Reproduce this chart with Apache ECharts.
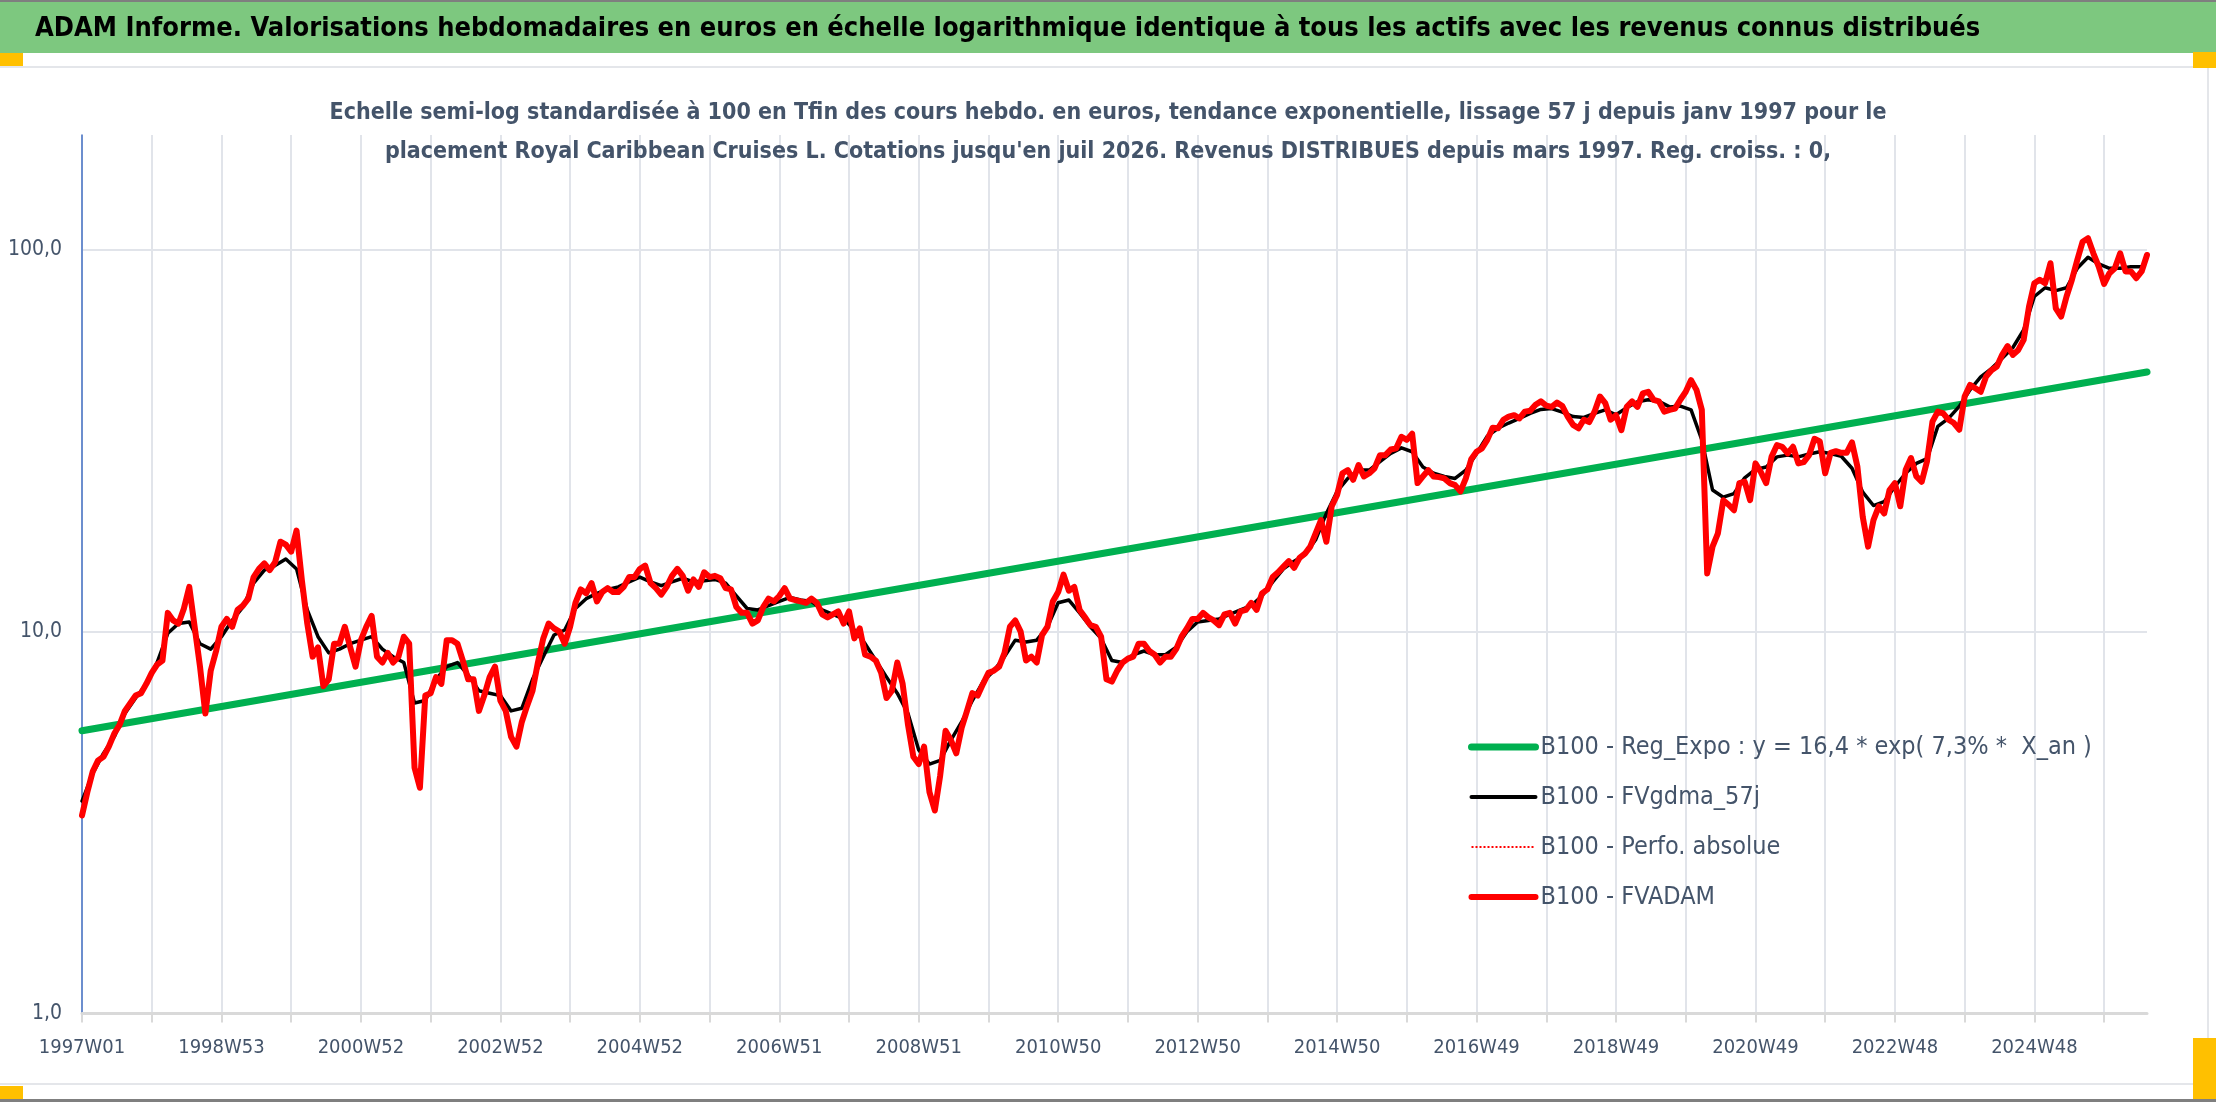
<!DOCTYPE html>
<html>
<head>
<meta charset="utf-8">
<script src="https://cdn.jsdelivr.net/npm/echarts@6/dist/echarts.min.js"></script>
<style>html,body{margin:0;padding:0;background:#fff}#c{width:2216px;height:1102px}</style>
</head>
<body>
<div id="c"></div>
<script>
const FONT = "'Liberation Sans Narrow','DejaVu Sans Condensed','Open Sans',sans-serif";

const mainTitle = "ADAM Informe. Valorisations hebdomadaires en euros en échelle logarithmique identique à tous les actifs avec les revenus connus distribués";
const subTitleLines = [
  "Echelle semi-log standardisée à 100 en Tfin des cours hebdo. en euros, tendance exponentielle, lissage 57 j depuis janv 1997 pour le",
  "placement Royal Caribbean Cruises L. Cotations jusqu'en juil 2026. Revenus DISTRIBUES depuis mars 1997. Reg. croiss. : 0,"
];
const seriesNames = [
  "B100 - Reg_Expo : y = 16,4 * exp( 7,3% *  X_an )",
  "B100 - FVgdma_57j",
  "B100 - Perfo. absolue",
  "B100 - FVADAM"
];
const yTickLabels = ["1,0", "10,0", "100,0"];
const firstYear = 1997;
const weekStep = 4;      // one category every 4 weeks
const gdmaStep = 2;      // smoothed series read every 2 categories (8 weeks)

// B100 - FVADAM, one value every 4 weeks from 1997W01
const fvadam = [
3.3,3.8,4.3,4.6,4.7,5.0,5.4,5.7,6.2,6.5,6.8,6.9,7.3,7.8,8.2,8.4,11.2,10.7,10.5,11.5,13.1,10.3,8.1,6.1,7.9,8.9,10.3,10.8,10.3,11.4,11.7,12.2,13.9,14.6,15.1,14.5,15.2,17.2,16.9,16.2,18.4,13.6,10.5,8.6,9.1,7.2,7.5,9.3,9.3,10.3,9.1,8.1,9.5,10.3,11.0,8.6,8.3,8.8,8.3,8.6,9.7,9.3,4.4,3.9,6.8,6.9,
7.6,7.3,9.5,9.5,9.3,8.4,7.5,7.5,6.2,6.8,7.6,8.1,6.6,6.2,5.3,5.0,5.8,6.4,7.0,8.3,9.6,10.5,10.2,10.0,9.3,10.3,11.9,12.9,12.6,13.4,12.0,12.7,13.0,12.7,12.7,13.1,13.9,13.9,14.6,14.9,13.4,13.0,12.5,13.1,14.0,14.6,14.0,12.8,13.7,13.1,14.3,13.9,14.0,13.8,13.0,12.9,11.6,11.2,11.2,10.5,10.7,11.6,12.2,12.0,12.4,13.0,12.2,
12.1,12.0,11.9,12.2,11.9,11.1,10.9,11.1,11.3,10.5,11.3,9.6,10.2,8.7,8.6,8.4,7.8,6.7,7.0,8.3,7.3,5.7,4.7,4.5,5.0,3.8,3.4,4.2,5.5,5.2,4.8,5.6,6.2,6.9,6.8,7.3,7.8,7.9,8.1,8.8,10.3,10.7,10.0,8.4,8.6,8.3,9.8,10.3,12.0,12.7,14.1,12.8,13.1,11.4,10.9,10.4,10.3,9.7,7.5,7.4,7.9,8.3,
8.5,8.6,9.3,9.3,8.9,8.7,8.3,8.6,8.6,9.0,9.7,10.2,10.8,10.8,11.2,10.9,10.7,10.4,11.1,11.2,10.5,11.3,11.4,11.9,11.4,12.6,12.9,13.9,14.3,14.8,15.3,14.7,15.6,16.0,16.7,18.1,19.6,17.2,21.3,22.8,26.0,26.5,25.0,27.3,25.5,26.0,26.8,29.0,29.0,30.0,30.2,32.4,31.8,33.0,24.5,25.5,26.5,25.5,25.4,25.2,24.5,24.2,23.3,25.2,
28.3,29.6,30.2,31.8,34.2,34.1,35.9,36.6,36.9,36.2,37.7,37.9,39.3,40.1,39.1,38.8,39.8,39.0,36.6,34.8,34.1,35.9,35.4,37.7,41.3,39.7,35.9,36.9,33.7,38.8,40.1,38.8,42.1,42.5,40.5,40.1,37.7,38.1,38.4,40.5,42.5,45.6,43.0,38.1,14.2,16.7,18.1,22.1,21.5,20.8,24.5,24.7,22.1,27.6,26.2,24.5,28.7,30.8,30.5,29.3,30.5,27.6,
27.8,29.0,32.0,31.5,26.0,29.4,29.7,29.4,29.4,31.3,27.1,20.0,16.7,19.6,21.3,20.4,23.5,24.5,21.3,26.5,28.5,25.5,24.7,28.0,35.5,37.7,37.3,35.9,35.2,33.8,41.3,44.3,43.4,42.5,46.6,48.4,49.5,53.1,56.0,53.1,54.7,58.1,71.0,81.8,83.5,81.8,92.3,70.3,66.9,75.5,83.5,94.1,105.1,107.3,98.0,90.4,81.5,86.9,89.5,98.0,87.8,87.8,84.3,87.8,97.0
];

// B100 - FVgdma_57j, one value every 8 weeks from 1997W01
const fvgdma57 = [
3.6,4.25,4.8,5.3,6.1,6.7,7.3,8.3,9.9,10.5,10.6,9.3,9.0,9.7,10.7,11.6,13.4,14.5,14.9,15.5,14.6,11.4,9.7,8.8,9.0,9.3,9.5,9.7,9.0,8.6,8.3,6.5,6.6,
7.5,8.1,8.3,7.7,7.0,6.9,6.8,6.2,6.3,7.5,8.6,9.8,10.1,11.5,12.2,12.6,12.9,13.1,13.5,13.9,13.5,13.2,13.5,13.8,13.5,13.6,13.7,13.4,12.4,11.5,11.4,11.7,12.0,12.3,
12.1,12.0,11.4,11.1,10.8,10.1,9.3,8.4,7.6,6.9,6.1,4.9,4.5,4.6,5.2,5.8,6.6,7.4,7.9,8.6,9.5,9.4,9.5,10.3,11.9,12.1,11.2,10.3,9.6,8.4,8.3,8.7,
8.9,8.7,8.7,9.1,10.0,10.6,10.7,10.8,11.1,11.4,11.7,12.4,13.5,14.6,15.3,15.9,17.4,20.4,23.3,25.2,26.5,26.5,27.9,29.3,30.3,29.6,27.0,26.0,25.5,25.2,26.5,29.3,
32.5,34.1,35.2,36.2,37.3,38.2,38.4,37.6,36.6,36.4,37.3,38.1,37.0,38.6,40.0,40.5,40.1,38.8,39.0,38.1,31.8,23.5,22.5,23.0,25.3,26.6,27.0,28.7,29.0,28.7,
29.2,29.6,29.3,28.8,26.8,23.2,21.4,21.9,24.0,26.0,27.6,28.4,34.5,36.2,38.9,43.0,46.5,48.9,52.0,55.5,61.7,75.5,79.6,78.2,79.6,89.5,95.7,91.9,89.5,89.5,90.4,90.4
];

// B100 - Reg_Expo : values read at the first and the last week (straight on the log axis)
const regExpoEnds = [5.5, 47.9];

// ---- categories (ISO weeks) ----
function isoWeeksInYear(y) {
  const d = new Date(Date.UTC(y, 11, 28));
  const day = (d.getUTCDay() + 6) % 7;
  const th = new Date(d.getTime()); th.setUTCDate(d.getUTCDate() - day + 3);
  const ys = new Date(Date.UTC(th.getUTCFullYear(), 0, 1));
  return Math.ceil(((th - ys) / 86400000 + 1) / 7);
}
function weekLabel(w) {
  let y = firstYear, k = w;
  while (k >= isoWeeksInYear(y)) { k -= isoWeeksInYear(y); y++; }
  return y + "W" + String(k + 1).padStart(2, "0");
}
const categories = fvadam.map((_, i) => weekLabel(i * weekStep));
const nCat = categories.length;

const regData = categories.map((_, i) => i === 0 ? regExpoEnds[0] : (i === nCat - 1 ? regExpoEnds[1] : null));
const gdmaData = categories.map((_, i) => (i % gdmaStep === 0 && fvgdma57[i / gdmaStep] != null) ? fvgdma57[i / gdmaStep] : null);

const chart = echarts.init(document.getElementById("c"), null, { renderer: "canvas" });
const SLATE = "#44546A";
const GRID = "#E1E4EA";
const noSymbol = { opacity: 0 };

chart.setOption({
  animation: false,
  backgroundColor: "#ffffff",
  graphic: [
    { type: "rect", z: 0, shape: { x: 0, y: 0, width: 2216, height: 2 }, style: { fill: "#7f7f7f" } },
    { type: "rect", z: 0, shape: { x: 0, y: 2, width: 2216, height: 51 }, style: { fill: "#7DC87F" } },
    { type: "rect", z: 0, shape: { x: 0, y: 66, width: 2210, height: 2 }, style: { fill: "#E4E6EA" } },
    { type: "rect", z: 0, shape: { x: 2207, y: 66, width: 2, height: 1019 }, style: { fill: "#E4E6EA" } },
    { type: "rect", z: 0, shape: { x: 0, y: 1083, width: 2210, height: 2 }, style: { fill: "#E4E6EA" } },
    { type: "rect", z: 0, shape: { x: 0, y: 1099, width: 2216, height: 3 }, style: { fill: "#7f7f7f" } },
    { type: "rect", z: 1, shape: { x: 0, y: 53, width: 23, height: 13 }, style: { fill: "#FFC000" } },
    { type: "rect", z: 1, shape: { x: 2193, y: 52, width: 23, height: 16 }, style: { fill: "#FFC000" } },
    { type: "rect", z: 1, shape: { x: 0, y: 1086, width: 23, height: 13 }, style: { fill: "#FFC000" } },
    { type: "rect", z: 1, shape: { x: 2193, y: 1038, width: 23, height: 61 }, style: { fill: "#FFC000" } }
  ],
  title: [
    {
      text: mainTitle, left: 35, top: 14, padding: 0, z: 20,
      textStyle: { fontFamily: FONT, fontSize: 27, fontWeight: "bold", color: "#000000", lineHeight: 30 }
    },
    {
      text: subTitleLines[0], left: "center", top: 94, padding: 0, z: 20,
      textStyle: { fontFamily: FONT, fontSize: 23, fontWeight: "bold", color: SLATE, lineHeight: 39 }
    },
    {
      text: subTitleLines[1], left: "center", top: 133, padding: 0, z: 20,
      textStyle: { fontFamily: FONT, fontSize: 23, fontWeight: "bold", color: SLATE, lineHeight: 39 }
    }
  ],
  grid: { left: 82, right: 69, top: 135, bottom: 88.6, containLabel: false },
  legend: {
    orient: "vertical", left: 1468, top: 734, padding: 0,
    itemGap: 24, itemWidth: 64, itemHeight: 14, selectedMode: false,
    itemStyle: noSymbol,
    textStyle: { fontFamily: FONT, fontSize: 25, lineHeight: 26, color: SLATE },
    data: [
      { name: seriesNames[0], lineStyle: { width: 7 }, itemStyle: noSymbol },
      { name: seriesNames[1], lineStyle: { width: 4 }, itemStyle: noSymbol },
      { name: seriesNames[2], lineStyle: { width: 2, type: "dotted" }, itemStyle: noSymbol },
      { name: seriesNames[3], lineStyle: { width: 6 }, itemStyle: noSymbol }
    ]
  },
  xAxis: {
    type: "category", data: categories, boundaryGap: false,
    axisLine: { lineStyle: { color: "#D9D9D9", width: 3 } },
    axisTick: { show: true, interval: 12, length: 9, lineStyle: { color: "#D9D9D9", width: 2 } },
    axisLabel: { interval: 25, margin: 24, fontFamily: FONT, fontSize: 20, color: SLATE },
    splitLine: { show: true, interval: 12, lineStyle: { color: GRID, width: 2 } }
  },
  yAxis: {
    type: "log", logBase: 10, min: 1, max: 200,
    axisLine: { show: true, lineStyle: { color: "#4472C4", width: 1.5 } },
    axisTick: { show: false },
    axisLabel: {
      margin: 20, fontFamily: FONT, fontSize: 21, color: SLATE, showMaxLabel: false,
      formatter: v => { const e = Math.round(Math.log10(v)); return Math.abs(Math.log10(v) - e) < 1e-6 && yTickLabels[e] ? yTickLabels[e] : ""; }
    },
    splitLine: { show: true, showMaxLine: false, lineStyle: { color: GRID, width: 2 } }
  },
  series: [
    { name: seriesNames[0], type: "line", data: regData, connectNulls: true, symbol: "none",
      lineStyle: { color: "#00B050", width: 7, cap: "round" }, itemStyle: { color: "#00B050" } },
    { name: seriesNames[1], type: "line", data: gdmaData, connectNulls: true, symbol: "none",
      lineStyle: { color: "#000000", width: 3.5, join: "round", cap: "round" }, itemStyle: { color: "#000000" } },
    { name: seriesNames[2], type: "line", data: fvadam, symbol: "none",
      lineStyle: { color: "#FF0000", width: 1.5, type: "dotted" }, itemStyle: { color: "#FF0000" } },
    { name: seriesNames[3], type: "line", data: fvadam, symbol: "none",
      lineStyle: { color: "#FF0000", width: 6, join: "round", cap: "round" }, itemStyle: { color: "#FF0000" } }
  ]
});
</script>
</body>
</html>
